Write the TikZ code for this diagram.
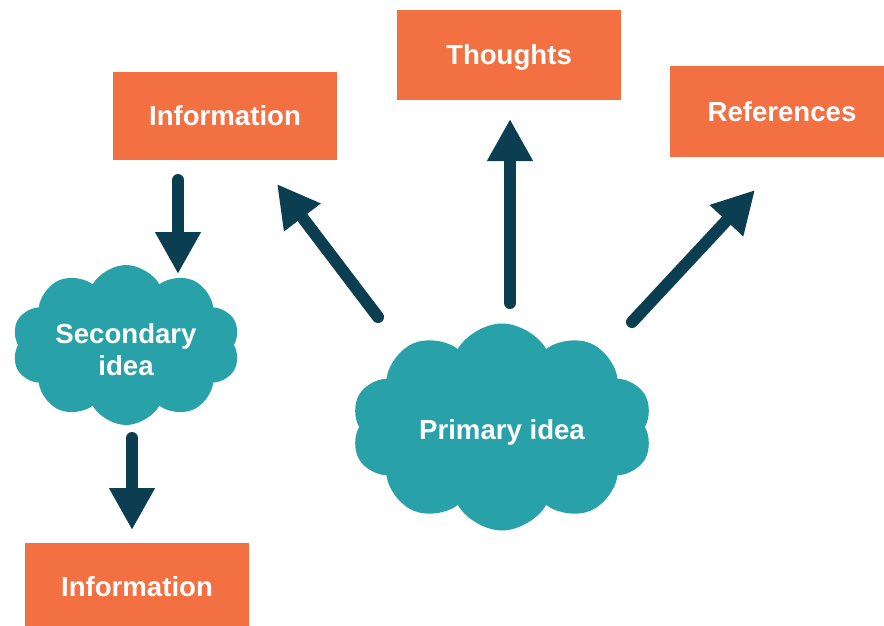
\documentclass[tikz,border=0pt]{standalone}
\usepackage{fontspec}
\setmainfont{Liberation Sans}
\usetikzlibrary{shapes.symbols,arrows.meta}
\definecolor{boxorange}{RGB}{242,112,65}
\definecolor{cloudteal}{RGB}{41,161,168}
\definecolor{arrowdark}{RGB}{11,62,80}
\begin{document}
\begin{tikzpicture}[x=1pt,y=-1pt,
  lbl/.style={text=white, font=\bfseries\fontsize{27.6}{32}\selectfont},
  box/.style={lbl, fill=boxorange, inner sep=0pt, text height=19.7pt, text depth=0pt},
  idea/.style={cloud, cloud puffs=10, cloud puff arc=120, cloud ignores aspect,
    fill=cloudteal, inner sep=0pt},
  link/.style={draw=arrowdark, line width=12pt, line cap=round,
    -{Triangle[length=42pt,width=43pt]}}]
\useasboundingbox (0,0) rectangle (884,626);
\node[box, minimum width=224pt, minimum height=88pt] (info1) at (225,116) {Information};
\node[box, minimum width=224pt, minimum height=90pt] (thoughts) at (509,55) {Thoughts};
\node[box, minimum width=224pt, minimum height=91pt] (refs) at (782,111.5) {References};
\node[box, minimum width=224pt, minimum height=88pt] (info2) at (137,586.5) {Information};
\node[idea, minimum width=228pt, minimum height=160pt,
  label={[lbl, align=center, yshift=-5pt]center:{Secondary\\idea}}] (second) at (126,345) {};
\node[idea, minimum width=301pt, minimum height=207pt,
  label={[lbl, text height=19.7pt, text depth=0pt, yshift=-3pt]center:{Primary idea}}] (primary) at (502,427) {};
\coordinate (a1s) at (178,180); \coordinate (a1e) at (178,274);
\coordinate (a2s) at (132,438); \coordinate (a2e) at (132,530);
\coordinate (a3s) at (378,317); \coordinate (a3e) at (277,184);
\coordinate (a4s) at (510,303); \coordinate (a4e) at (510,119);
\coordinate (a5s) at (632,322); \coordinate (a5e) at (755,190);
\draw[link] (a1s) -- (a1e);
\draw[link] (a2s) -- (a2e);
\draw[link] (a3s) -- (a3e);
\draw[link] (a4s) -- (a4e);
\draw[link] (a5s) -- (a5e);
\end{tikzpicture}
\end{document}
